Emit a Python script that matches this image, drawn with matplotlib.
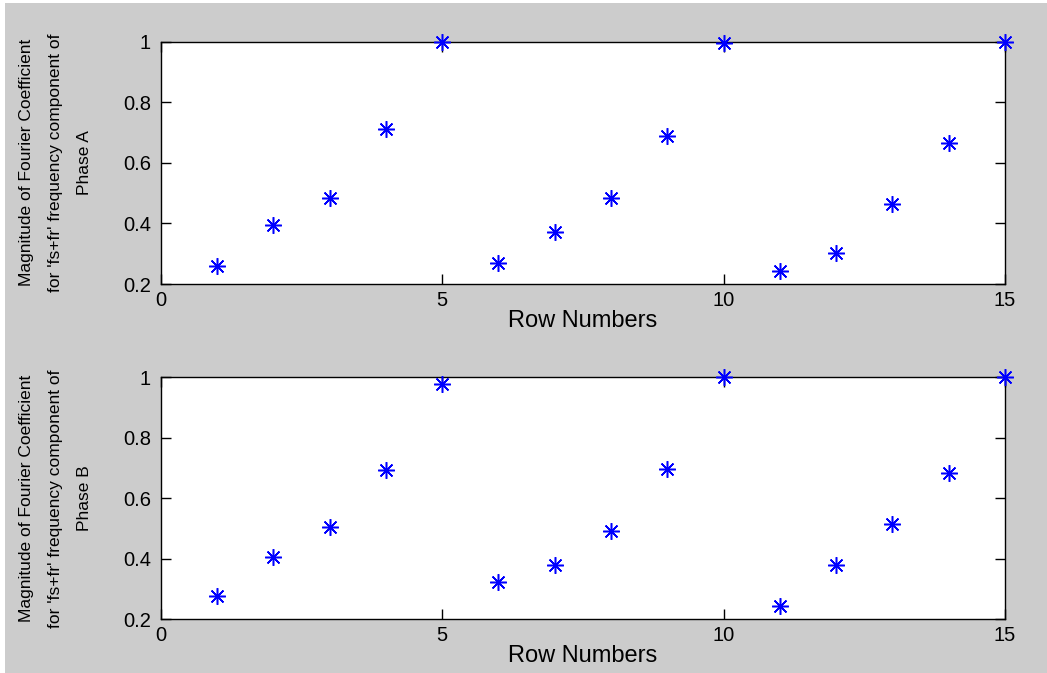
import matplotlib
matplotlib.use('Agg')
import matplotlib.pyplot as plt
from matplotlib.patches import Rectangle
from matplotlib.ticker import FuncFormatter

plt.rcParams['font.family'] = ['Liberation Sans', 'DejaVu Sans']

# row numbers and Fourier magnitudes of the 'fs+fr' component
rows = list(range(1, 16))
phase_a = [0.259, 0.394, 0.485, 0.711, 1.000, 0.268, 0.373, 0.485,
           0.689, 0.997, 0.243, 0.303, 0.464, 0.666, 1.000]
phase_b = [0.276, 0.405, 0.505, 0.694, 0.978, 0.322, 0.380, 0.492,
           0.697, 1.000, 0.245, 0.380, 0.514, 0.683, 1.000]

x_ticks = [0, 5, 10, 15]
y_ticks = [0.2, 0.4, 0.6, 0.8, 1.0]
x_label = 'Row Numbers'
y_label = "Magnitude of Fourier Coefficient\nfor 'fs+fr' frequency component of\nPhase {}"

W, H = 1047, 673
fig = plt.figure(figsize=(W / 100, H / 100), dpi=100, facecolor='white')
fig.patches.append(Rectangle((5 / W, 0), 1, 1 - 3 / H, transform=fig.transFigure,
                             facecolor='#cccccc', edgecolor='none', zorder=-10))


def fmt(v, pos):
    s = ('%.1f' % v)
    return s[:-2] if s.endswith('.0') else s


def draw_panel(rect, values, phase):
    ax = fig.add_axes(rect)
    ax.set_facecolor('white')
    ax.plot(rows, values, linestyle='none', marker=(8, 2, 0), markersize=12,
            markeredgewidth=1.1, color='#0000ff', clip_on=False, zorder=5)
    ax.set_xlim(0, 15)
    ax.set_ylim(0.2, 1.0)
    ax.set_xticks(x_ticks)
    ax.set_yticks(y_ticks)
    ax.xaxis.set_major_formatter(FuncFormatter(fmt))
    ax.yaxis.set_major_formatter(FuncFormatter(fmt))
    ax.tick_params(direction='in', length=7, width=1, top=True, right=True,
                   labelsize=14.5, colors='black')
    ax.tick_params(axis='y', pad=7)
    ax.tick_params(axis='x', pad=5)
    for sp in ax.spines.values():
        sp.set_linewidth(1.0)
        sp.set_color('black')
    ax.set_xlabel(x_label, fontsize=17, labelpad=0)
    ax.set_ylabel(y_label.format(phase), fontsize=12.5, linespacing=2.2)
    ax.yaxis.set_label_coords(-0.081, 0.5)
    return ax


draw_panel([160.7 / W, 1 - 284 / H, 844.3 / W, 242.3 / H], phase_a, 'A')
draw_panel([160.7 / W, 1 - 619.3 / H, 844.3 / W, 242 / H], phase_b, 'B')

fig.savefig('out.png', dpi=100, facecolor=fig.get_facecolor())
